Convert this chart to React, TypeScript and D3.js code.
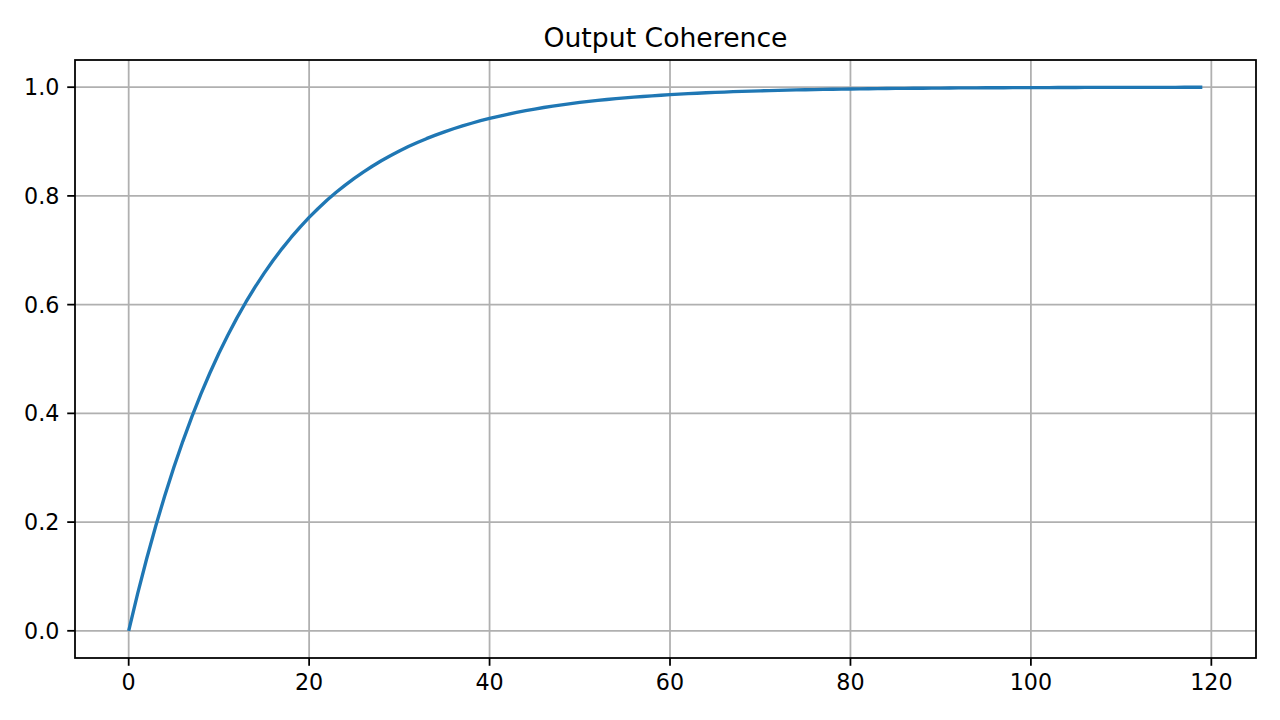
import React, { useEffect } from 'react';
import * as d3 from 'd3';

// Coherence, one value per step 0..119
const coherence: number[] = [
  0.0000, 0.0689, 0.1331, 0.1929, 0.2485, 0.3003, 0.3486, 0.3935, 0.4353, 0.4742,
  0.5105, 0.5442, 0.5756, 0.6049, 0.6321, 0.6575, 0.6811, 0.7031, 0.7236, 0.7426,
  0.7604, 0.7769, 0.7923, 0.8066, 0.8199, 0.8323, 0.8439, 0.8546, 0.8647, 0.8740,
  0.8827, 0.8908, 0.8983, 0.9053, 0.9118, 0.9179, 0.9236, 0.9288, 0.9337, 0.9383,
  0.9426, 0.9465, 0.9502, 0.9536, 0.9568, 0.9598, 0.9626, 0.9652, 0.9676, 0.9698,
  0.9719, 0.9738, 0.9756, 0.9773, 0.9789, 0.9803, 0.9817, 0.9829, 0.9841, 0.9852,
  0.9862, 0.9872, 0.9881, 0.9889, 0.9897, 0.9904, 0.9910, 0.9917, 0.9922, 0.9928,
  0.9933, 0.9937, 0.9942, 0.9946, 0.9949, 0.9953, 0.9956, 0.9959, 0.9962, 0.9965,
  0.9967, 0.9969, 0.9971, 0.9973, 0.9975, 0.9977, 0.9979, 0.9980, 0.9981, 0.9983,
  0.9984, 0.9985, 0.9986, 0.9987, 0.9988, 0.9989, 0.9989, 0.9990, 0.9991, 0.9992,
  0.9992, 0.9993, 0.9993, 0.9994, 0.9994, 0.9994, 0.9995, 0.9995, 0.9996, 0.9996,
  0.9996, 0.9996, 0.9997, 0.9997, 0.9997, 0.9997, 0.9997, 0.9998, 0.9998, 0.9998,
];
const steps: number[] = coherence.map((_, i) => i);

const xTicks = [0, 20, 40, 60, 80, 100, 120];
const yTicks = [0.0, 0.2, 0.4, 0.6, 0.8, 1.0];
const title = 'Output Coherence';

const W = 1280;
const H = 720;
const left = 75;
const right = 1256;
const top = 60;
const bottom = 658;
const font = 'DejaVu Sans, sans-serif';
const pt = 160 / 72; // figure was rendered at 160 dpi

export default function App() {
  useEffect(() => {
    document.body.style.margin = '0';
  }, []);

  // matplotlib-style 5% margins
  const xExt = d3.extent(steps) as [number, number];
  const xPad = (xExt[1] - xExt[0]) * 0.05;
  const x = d3.scaleLinear().domain([xExt[0] - xPad, xExt[1] + xPad]).range([left, right]);
  const yPad = 0.05;
  const y = d3.scaleLinear().domain([0 - yPad, 1 + yPad]).range([bottom, top]);

  const line = d3.line<number>()
    .x((_, i) => x(steps[i]))
    .y(d => y(d));

  const tickLen = 3.5 * pt;
  const tickPad = 3.5 * pt;

  return (
    <svg width={W} height={H} style={{ display: 'block', background: '#fff' }}>
      <text x={(left + right) / 2} y={top - 6 * pt} textAnchor="middle" fontFamily={font} fontSize={12 * pt} fill="#000">
        {title}
      </text>

      {/* grid */}
      <g stroke="#b0b0b0" strokeWidth={0.8 * pt}>
        {xTicks.map(t => (
          <line key={'gx' + t} x1={x(t)} x2={x(t)} y1={top} y2={bottom} />
        ))}
        {yTicks.map(t => (
          <line key={'gy' + t} x1={left} x2={right} y1={y(t)} y2={y(t)} />
        ))}
      </g>

      <path d={line(coherence) ?? ''} fill="none" stroke="#1f77b4" strokeWidth={1.5 * pt} strokeLinejoin="round" strokeLinecap="butt" />

      {/* spines */}
      <rect x={left} y={top} width={right - left} height={bottom - top} fill="none" stroke="#000" strokeWidth={0.8 * pt} />

      <g fontFamily={font} fontSize={10 * pt} fill="#000">
        {xTicks.map(t => (
          <g key={'xt' + t} transform={`translate(${x(t)},${bottom})`}>
            <line y2={tickLen} stroke="#000" strokeWidth={0.8 * pt} />
            <text y={tickLen + tickPad} dy="0.76em" textAnchor="middle">{t}</text>
          </g>
        ))}
        {yTicks.map(t => (
          <g key={'yt' + t} transform={`translate(${left},${y(t)})`}>
            <line x2={-tickLen} stroke="#000" strokeWidth={0.8 * pt} />
            <text x={-tickLen - tickPad} dy="0.36em" textAnchor="end">{t.toFixed(1)}</text>
          </g>
        ))}
      </g>
    </svg>
  );
}
